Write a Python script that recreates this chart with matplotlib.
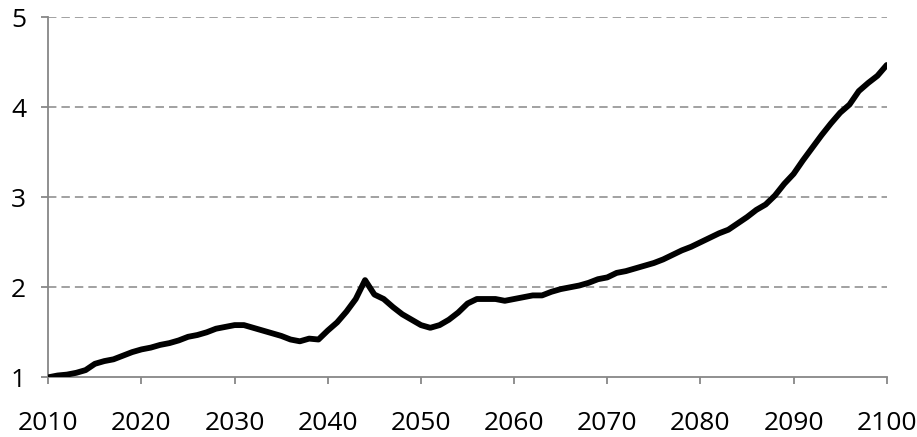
import matplotlib
matplotlib.use("Agg")
import matplotlib.pyplot as plt
import numpy as np

years = np.arange(2010, 2101)
values = [1.00, 1.02, 1.03, 1.05, 1.08, 1.15, 1.18, 1.20, 1.24, 1.28,
          1.31, 1.33, 1.36, 1.38, 1.41, 1.45, 1.47, 1.50, 1.54, 1.56,
          1.58, 1.58, 1.55, 1.52, 1.49, 1.46, 1.42, 1.40, 1.43, 1.42,
          1.52, 1.61, 1.73, 1.87, 2.08, 1.92, 1.87, 1.78, 1.70, 1.64,
          1.58, 1.55, 1.58, 1.64, 1.72, 1.82, 1.87, 1.87, 1.87, 1.85,
          1.87, 1.89, 1.91, 1.91, 1.95, 1.98, 2.00, 2.02, 2.05, 2.09,
          2.11, 2.16, 2.18, 2.21, 2.24, 2.27, 2.31, 2.36, 2.41, 2.45,
          2.50, 2.55, 2.60, 2.64, 2.71, 2.78, 2.86, 2.92, 3.02, 3.15,
          3.26, 3.41, 3.55, 3.69, 3.82, 3.94, 4.03, 4.18, 4.27, 4.35,
          4.47]
xticks = np.arange(2010, 2101, 10)
yticks = [1, 2, 3, 4, 5]

plt.rcParams['font.family'] = ['Open Sans', 'DejaVu Sans']

fig = plt.figure(figsize=(9.17, 4.37), dpi=100)
ax = fig.add_axes([0.0527, 0.1366, 0.9143, 0.8238])

grey = '#878787'
for yv in yticks[1:]:
    ax.axhline(yv, color=grey, lw=1.1, dashes=(5.5, 3.3), zorder=1)

ax.plot(years, values, color='black', lw=4.2, solid_capstyle='round',
        solid_joinstyle='round', zorder=3)

ax.set_xlim(2010, 2100)
ax.set_ylim(1, 5)
ax.set_xticks(xticks)
ax.set_yticks(yticks)
for s in ['top', 'right']:
    ax.spines[s].set_visible(False)
for s in ['left', 'bottom']:
    ax.spines[s].set_color(grey)
    ax.spines[s].set_linewidth(1.3)
ax.tick_params(axis='both', color=grey, width=1.3, length=5, labelsize=19)
ax.tick_params(axis='x', pad=19)
ax.tick_params(axis='y', pad=11)

fig.savefig("out.png", dpi=100)
